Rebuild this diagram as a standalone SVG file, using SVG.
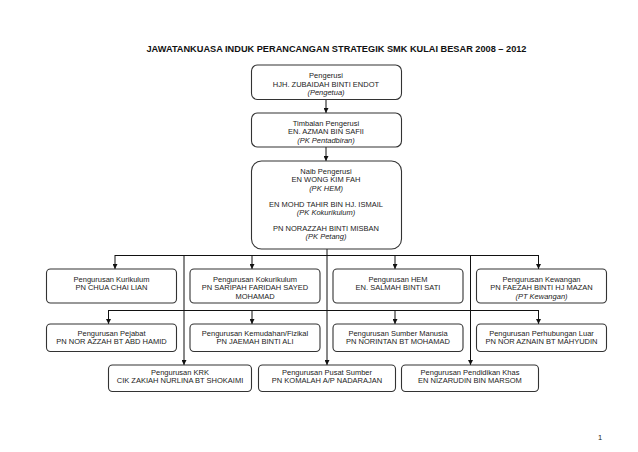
<svg xmlns="http://www.w3.org/2000/svg" width="638" height="452" viewBox="0 0 638 452">
<style>
.bx{fill:#fff;stroke:#333;stroke-width:1.1}
.t{font-family:"Liberation Sans",Arial,sans-serif;font-size:7.5px;fill:#222;text-anchor:middle}
.i{font-style:italic}
.ln{fill:none;stroke:#111;stroke-width:1}
</style>
<defs>
<marker id="ar" viewBox="0 0 6 6" refX="6" refY="3" markerWidth="5" markerHeight="5" orient="auto" markerUnits="userSpaceOnUse">
<path d="M0,0 L6,3 L0,6 Z" fill="#111"/>
</marker>
</defs>
<rect width="638" height="452" fill="#fff"/>
<text x="336.5" y="52" font-family="Liberation Sans,Arial,sans-serif" font-size="8.5" font-weight="bold" text-anchor="middle" fill="#111" textLength="380" lengthAdjust="spacingAndGlyphs">JAWATANKUASA INDUK PERANCANGAN STRATEGIK SMK KULAI BESAR 2008 – 2012</text>

<g id="connectors">
<line class="ln" x1="326" y1="99.5" x2="326" y2="113" marker-end="url(#ar)"/>
<line class="ln" x1="326" y1="147" x2="326" y2="161" marker-end="url(#ar)"/>
<line class="ln" x1="327" y1="249" x2="327" y2="365" marker-end="url(#ar)"/>
<line class="ln" x1="115" y1="255.5" x2="538.5" y2="255.5"/>
<line class="ln" x1="115" y1="255" x2="115" y2="269" marker-end="url(#ar)"/>
<line class="ln" x1="252" y1="255" x2="252" y2="269" marker-end="url(#ar)"/>
<line class="ln" x1="395" y1="255" x2="395" y2="269" marker-end="url(#ar)"/>
<line class="ln" x1="538.5" y1="255" x2="538.5" y2="269" marker-end="url(#ar)"/>
<line class="ln" x1="184" y1="255" x2="184" y2="365" marker-end="url(#ar)"/>
<line class="ln" x1="470.5" y1="255" x2="470.5" y2="365" marker-end="url(#ar)"/>
<line class="ln" x1="108.5" y1="310.5" x2="538.5" y2="310.5"/>
<line class="ln" x1="108.5" y1="310" x2="108.5" y2="324" marker-end="url(#ar)"/>
<line class="ln" x1="252" y1="310" x2="252" y2="324" marker-end="url(#ar)"/>
<line class="ln" x1="395" y1="310" x2="395" y2="324" marker-end="url(#ar)"/>
<line class="ln" x1="538.5" y1="310" x2="538.5" y2="324" marker-end="url(#ar)"/>
</g>

<g id="pengerusi">
<rect class="bx" x="251.5" y="65" width="150" height="34.5" rx="6"/>
<text class="t" x="326" y="78">Pengerusi</text>
<text class="t" x="326" y="86.5">HJH. ZUBAIDAH BINTI ENDOT</text>
<text class="t i" x="326" y="95">(Pengetua)</text>
</g>
<g id="timbalan">
<rect class="bx" x="251.5" y="113" width="150" height="34" rx="6"/>
<text class="t" x="326" y="125.5">Timbalan Pengerusi</text>
<text class="t" x="326" y="134">EN. AZMAN BIN SAFII</text>
<text class="t i" x="326" y="142.5">(PK Pentadbiran)</text>
</g>
<g id="naib">
<rect class="bx" x="251.5" y="161" width="150" height="88" rx="10"/>
<text class="t" x="326" y="173.5">Naib Pengerusi</text>
<text class="t" x="326" y="182">EN WONG KIM FAH</text>
<text class="t i" x="326" y="191">(PK HEM)</text>
<text class="t" x="326" y="206.5">EN MOHD TAHIR BIN HJ. ISMAIL</text>
<text class="t i" x="326" y="215">(PK Kokurikulum)</text>
<text class="t" x="326" y="230.5">PN NORAZZAH BINTI MISBAN</text>
<text class="t i" x="326" y="239">(PK Petang)</text>
</g>

<g id="kurikulum">
<rect class="bx" x="46.5" y="269" width="130" height="34" rx="4"/>
<text class="t" x="111.5" y="281.5">Pengurusan Kurikulum</text>
<text class="t" x="111.5" y="290">PN CHUA CHAI LIAN</text>
</g>
<g id="kokurikulum">
<rect class="bx" x="190" y="269" width="130" height="34" rx="4"/>
<text class="t" x="255" y="281.5">Pengurusan Kokurikulum</text>
<text class="t" x="255" y="290">PN SARIPAH FARIDAH SAYED</text>
<text class="t" x="255" y="298.5">MOHAMAD</text>
</g>
<g id="hem">
<rect class="bx" x="333" y="269" width="130" height="34" rx="4"/>
<text class="t" x="398" y="281.5">Pengurusan HEM</text>
<text class="t" x="398" y="290">EN. SALMAH BINTI SATI</text>
</g>
<g id="kewangan">
<rect class="bx" x="476.5" y="269" width="130" height="34" rx="4"/>
<text class="t" x="541.5" y="281.5">Pengurusan Kewangan</text>
<text class="t" x="541.5" y="290">PN FAEZAH BINTI HJ MAZAN</text>
<text class="t i" x="541.5" y="298.5">(PT Kewangan)</text>
</g>

<g id="pejabat">
<rect class="bx" x="46.5" y="324" width="130" height="27.5" rx="4"/>
<text class="t" x="111.5" y="335.5">Pengurusan Pejabat</text>
<text class="t" x="111.5" y="343.5">PN NOR AZZAH BT ABD HAMID</text>
</g>
<g id="kemudahan">
<rect class="bx" x="190" y="324" width="130" height="27.5" rx="4"/>
<text class="t" x="255" y="335.5">Pengurusan Kemudahan/Fizikal</text>
<text class="t" x="255" y="343.5">PN JAEMAH BINTI ALI</text>
</g>
<g id="sumber-manusia">
<rect class="bx" x="333" y="324" width="130" height="27.5" rx="4"/>
<text class="t" x="398" y="335.5">Pengurusan Sumber Manusia</text>
<text class="t" x="398" y="343.5">PN NORINTAN BT MOHAMAD</text>
</g>
<g id="perhubungan">
<rect class="bx" x="476.5" y="324" width="130" height="27.5" rx="4"/>
<text class="t" x="541.5" y="335.5">Pengurusan Perhubungan Luar</text>
<text class="t" x="541.5" y="343.5">PN NOR AZNAIN BT MAHYUDIN</text>
</g>

<g id="krk">
<rect class="bx" x="108.5" y="365" width="143" height="26.5" rx="4"/>
<text class="t" x="180" y="374.5">Pengurusan KRK</text>
<text class="t" x="180" y="382.5">CIK ZAKIAH NURLINA BT SHOKAIMI</text>
</g>
<g id="pusat-sumber">
<rect class="bx" x="258.5" y="365" width="137" height="26.5" rx="4"/>
<text class="t" x="327" y="374.5">Pengurusan Pusat Sumber</text>
<text class="t" x="327" y="382.5">PN KOMALAH A/P NADARAJAN</text>
</g>
<g id="pendidikan-khas">
<rect class="bx" x="401.5" y="365" width="137" height="26.5" rx="4"/>
<text class="t" x="470" y="374.5">Pengurusan Pendidikan Khas</text>
<text class="t" x="470" y="382.5">EN NIZARUDIN BIN MARSOM</text>
</g>

<text class="t" x="600" y="440">1</text>
</svg>
